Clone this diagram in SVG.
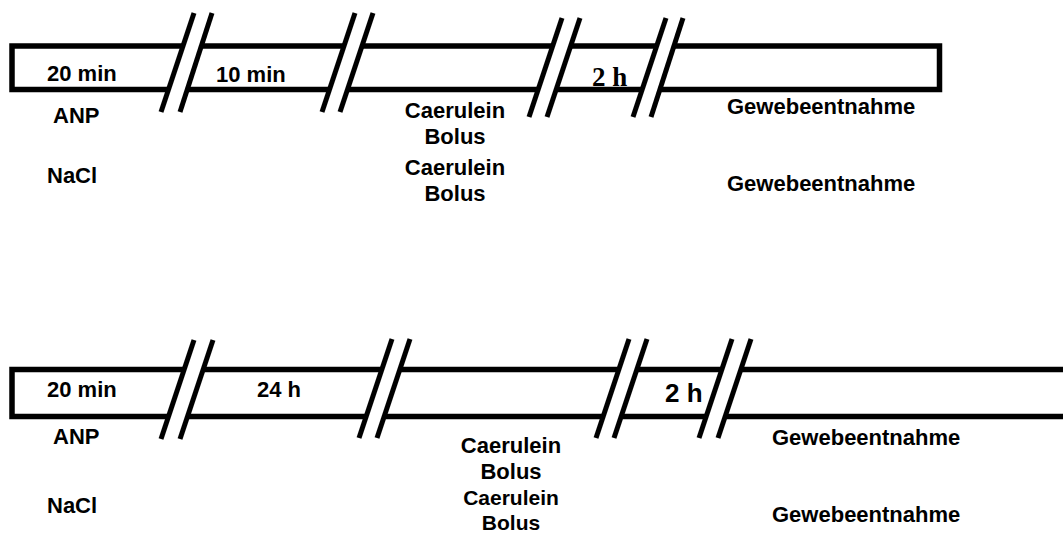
<svg xmlns="http://www.w3.org/2000/svg" width="1063" height="533" viewBox="0 0 1063 533">
<style>
.bar{fill:none;stroke:#000;stroke-width:5.5}
.gap{fill:#fff;stroke:none}
.sl{stroke:#000;stroke-width:5;stroke-linecap:butt;fill:none}
.t{font-family:"Liberation Sans",Arial,sans-serif;font-weight:bold;font-size:22px;fill:#000}
.c{text-anchor:middle}
.s{font-family:"Liberation Serif","Times New Roman",serif;font-weight:bold;font-size:27px;fill:#000}
</style>
<rect width="1063" height="533" fill="#fff"/>
<g id="timeline1">
<rect class="bar" x="12" y="46" width="927.5" height="43.5"/>
</g>
<g id="timeline2">
<path class="bar" d="M1070,369.5 H12 V416.5 H1070"/>
</g>
<g id="connectors">
<polygon class="gap" points="161,112 194,13 212,13 180,112"/>
<line class="sl" x1="161" y1="112" x2="194" y2="13"/><line class="sl" x1="180" y1="112" x2="212" y2="13"/>
<polygon class="gap" points="322,112 355,13 373,13 340,112"/>
<line class="sl" x1="322" y1="112" x2="355" y2="13"/><line class="sl" x1="340" y1="112" x2="373" y2="13"/>
<polygon class="gap" points="529,117 562,18 580,18 547,117"/>
<line class="sl" x1="529" y1="117" x2="562" y2="18"/><line class="sl" x1="547" y1="117" x2="580" y2="18"/>
<polygon class="gap" points="633,117 666,18 683,18 651,117"/>
<line class="sl" x1="633" y1="117" x2="666" y2="18"/><line class="sl" x1="651" y1="117" x2="683" y2="18"/>
<polygon class="gap" points="161,439 194,340 213,340 180,439"/>
<line class="sl" x1="161" y1="439" x2="194" y2="340"/><line class="sl" x1="180" y1="439" x2="213" y2="340"/>
<polygon class="gap" points="359,438 392,339 410,339 377,438"/>
<line class="sl" x1="359" y1="438" x2="392" y2="339"/><line class="sl" x1="377" y1="438" x2="410" y2="339"/>
<polygon class="gap" points="596,438 629,339 647,339 614,438"/>
<line class="sl" x1="596" y1="438" x2="629" y2="339"/><line class="sl" x1="614" y1="438" x2="647" y2="339"/>
<polygon class="gap" points="699,438 732,339 751,339 718,438"/>
<line class="sl" x1="699" y1="438" x2="732" y2="339"/><line class="sl" x1="718" y1="438" x2="751" y2="339"/>
</g>
<g id="top-labels">
<text class="t" x="47" y="81">20 min</text>
<text class="t" x="216" y="82">10 min</text>
<text class="s" x="592" y="86">2 h</text>
<text class="t" x="53" y="123">ANP</text>
<text class="t" x="47" y="183">NaCl</text>
<text class="t c" x="455" y="118">Caerulein</text>
<text class="t c" x="455" y="144">Bolus</text>
<text class="t c" x="455" y="175">Caerulein</text>
<text class="t c" x="455" y="201">Bolus</text>
<text class="t" x="727" y="114">Gewebeentnahme</text>
<text class="t" x="727" y="191">Gewebeentnahme</text>
</g>
<g id="bottom-labels">
<text class="t" x="47" y="397">20 min</text>
<text class="t" x="257" y="397">24 h</text>
<text class="t" x="665" y="402" style="font-size:26px">2 h</text>
<text class="t" x="53" y="444">ANP</text>
<text class="t" x="47" y="513">NaCl</text>
<text class="t c" x="511" y="453">Caerulein</text>
<text class="t c" x="511" y="479">Bolus</text>
<text class="t c" x="511" y="505" style="font-size:21px">Caerulein</text>
<text class="t c" x="511" y="530" style="font-size:21px">Bolus</text>
<text class="t" x="772" y="445">Gewebeentnahme</text>
<text class="t" x="772" y="522">Gewebeentnahme</text>
</g>
</svg>
